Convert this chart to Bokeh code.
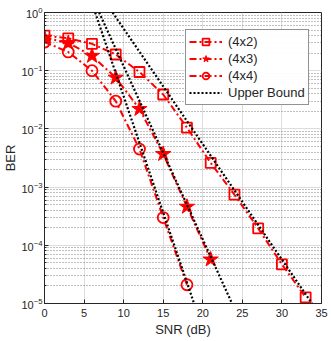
from bokeh.plotting import figure
from bokeh.models import Legend, LegendItem, Range1d, LogTicker, FixedTicker
from bokeh.embed import file_html
from bokeh.resources import INLINE

snr = [0, 3, 6, 9, 12, 15, 18, 21, 24, 27, 30, 33]
ber_4x2 = [0.40, 0.36, 0.29, 0.19, 0.095, 0.039, 0.0105, 0.0026, 7.4e-4, 1.95e-4, 4.7e-5, 1.27e-5]
snr_4x3 = [0, 3, 6, 9, 12, 15, 18, 21]
ber_4x3 = [0.37, 0.30, 0.18, 0.076, 0.022, 3.7e-3, 4.6e-4, 5.7e-5]
snr_4x4 = [0, 3, 6, 9, 12, 15, 18]
ber_4x4 = [0.31, 0.21, 0.10, 0.030, 4.5e-3, 3.0e-4, 2.1e-5]

ub_4x2_snr = [8.6, 33.8]
ub_4x2_ber = [1.0, 1e-5]
ub_4x3_snr = [6.9, 23.7]
ub_4x3_ber = [1.0, 1e-5]
ub_4x4_snr = [6.4, 18.9]
ub_4x4_ber = [1.0, 1e-5]

x_ticks = [0, 5, 10, 15, 20, 25, 30, 35]

FONT = "Liberation Sans"
RED = "#ff0000"
TXT = "#262626"

p = figure(width=331, height=341, y_axis_type="log", output_backend="svg",
           toolbar_location=None, x_range=Range1d(0, 35), y_range=Range1d(1e-5, 1),
           min_border_left=39, min_border_right=10, min_border_top=12, min_border_bottom=38)
p.background_fill_color = "white"
p.outline_line_color = TXT
p.outline_line_width = 1

p.xaxis.ticker = FixedTicker(ticks=x_ticks)
p.yaxis.ticker = LogTicker(num_minor_ticks=10)
for ax in (p.xaxis[0], p.yaxis[0]):
    ax.axis_line_color = TXT
    ax.major_tick_in = 4
    ax.major_tick_out = 0
    ax.minor_tick_in = 2
    ax.minor_tick_out = 0
    ax.major_tick_line_color = TXT
    ax.minor_tick_line_color = TXT
    ax.major_label_text_font = FONT
    ax.major_label_text_font_size = "11px"
    ax.major_label_text_color = TXT
    ax.axis_label_text_font = FONT
    ax.axis_label_text_font_size = "13px"
    ax.axis_label_text_font_style = "normal"
    ax.axis_label_text_color = TXT
p.xaxis.major_label_standoff = 5
p.xaxis.axis_label_standoff = 2
p.yaxis.major_label_standoff = 2
p.yaxis.axis_label_standoff = 0
p.xaxis.minor_tick_line_color = None
p.xaxis.axis_label = "SNR (dB)"
p.yaxis.axis_label = "BER"

p.xgrid.grid_line_color = "#dcdcdc"
p.ygrid.grid_line_color = "#dcdcdc"
p.ygrid.minor_grid_line_color = "#555555"
p.ygrid.minor_grid_line_dash = "1 2"
p.ygrid.minor_grid_line_alpha = 0.75

dash = "7 3 2 3"
r1 = p.line(snr, ber_4x2, line_color=RED, line_width=2, line_dash=dash)
m1 = p.scatter(snr, ber_4x2, marker="square", size=10, line_color=RED, fill_color=None, line_width=1.8)
r2 = p.line(snr_4x3, ber_4x3, line_color=RED, line_width=2, line_dash=dash)
m2 = p.scatter(snr_4x3, ber_4x3, marker="star", size=16, line_color=RED, fill_color=RED, line_width=1)
r3 = p.line(snr_4x4, ber_4x4, line_color=RED, line_width=2, line_dash=dash)
m3 = p.scatter(snr_4x4, ber_4x4, marker="circle", size=11, line_color=RED, fill_color=None, line_width=1.8)

u1 = p.line(ub_4x2_snr, ub_4x2_ber, line_color="black", line_width=2.2, line_dash="2 2")
u2 = p.line(ub_4x3_snr, ub_4x3_ber, line_color="black", line_width=2.2, line_dash="2 2")
u3 = p.line(ub_4x4_snr, ub_4x4_ber, line_color="black", line_width=2.2, line_dash="2 2")

legend = Legend(items=[
    LegendItem(label="(4x2)", renderers=[r1, m1]),
    LegendItem(label="(4x3)", renderers=[r2, m2]),
    LegendItem(label="(4x4)", renderers=[r3, m3]),
    LegendItem(label="Upper Bound", renderers=[u1]),
], location=(141, 198))
legend.label_text_font = FONT
legend.label_text_font_size = "13px"
legend.label_text_color = TXT
legend.border_line_color = TXT
legend.border_line_width = 1
legend.glyph_width = 33
legend.glyph_height = 17
legend.label_height = 17
legend.spacing = 0
legend.padding = 3
legend.margin = 0
legend.label_standoff = 6
p.add_layout(legend, "center")

open("out.html", "w").write(file_html(p, INLINE))
